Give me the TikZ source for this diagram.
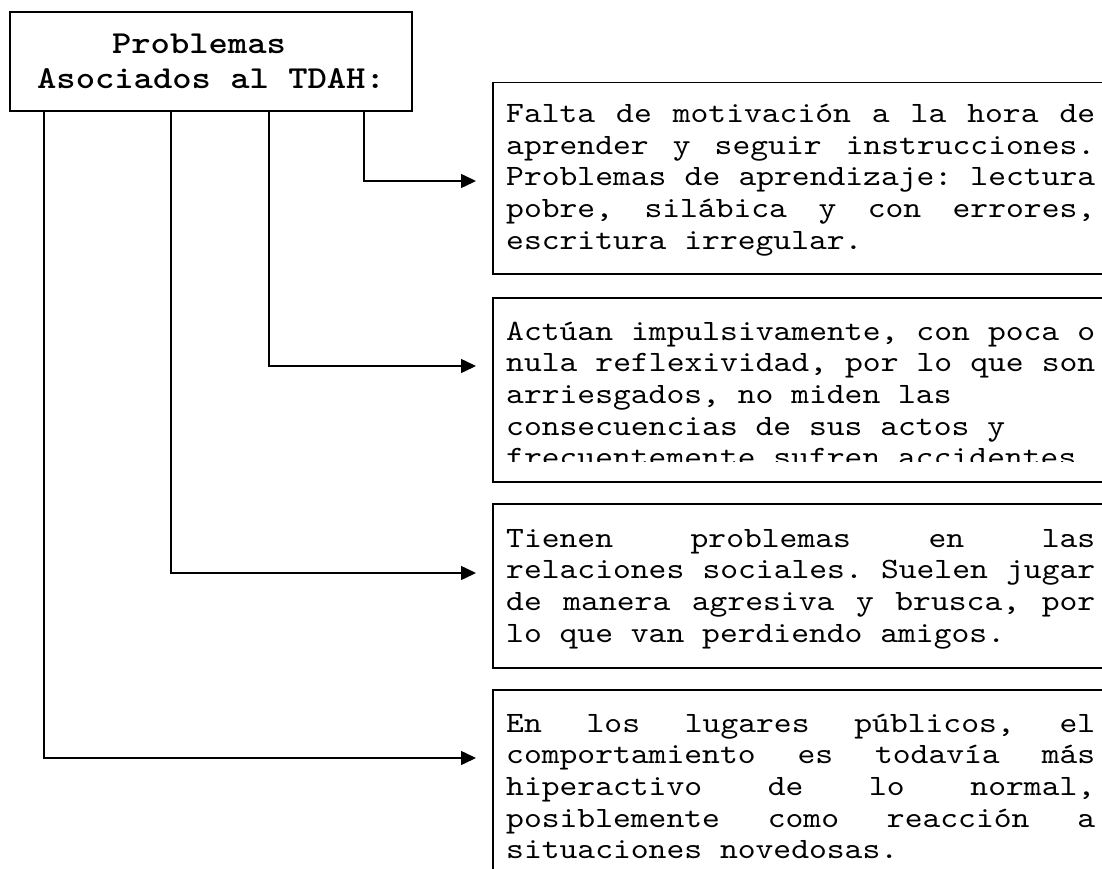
\documentclass[tikz,border=0pt]{standalone}
\usepackage{fontspec}
\usetikzlibrary{arrows.meta,calc}
\newfontfamily\cour{lmmono10-regular}[Extension=.otf, BoldFont=lmmonolt10-bold, FakeStretch=1.15]
\newcommand\bfs{\cour\fontsize{29.51pt}{31.7pt}\selectfont\frenchspacing\spaceskip=17.82pt plus 1fil\relax}
\newcommand\jl[1]{\hbox to 589pt{#1}}
\newcommand\rl[1]{\hbox{#1}}
\newcommand\para[1]{\vtop{\bfs\baselineskip=31.7pt\lineskiplimit=-50pt\relax #1}}
\tikzset{
  pbox/.style={draw, line width=1.5pt, rectangle, inner sep=0pt, anchor=north west},
  ptext/.style={anchor=base west, inner sep=0pt},
  conn/.style={line width=1.5pt, -{Triangle[length=15pt,width=14pt]}},
  titlebox/.style={draw, line width=1.5pt, rectangle, inner sep=0pt, minimum width=402pt, minimum height=99pt, align=center,
     font=\cour\bfseries\fontsize{32pt}{35pt}\selectfont}
}
\begin{document}
\begin{tikzpicture}[x=1pt,y=-1pt]
\useasboundingbox (0,0) rectangle (1102,869);
\fill[white] (0,0) rectangle (1102,869);
\clip (0,0) rectangle (1102,869);

\node[titlebox] (title) at (211,61.5) {Problemas\kern24pt\\Asociados al TDAH:};

\node[pbox, minimum width=640pt, minimum height=191pt] (b1) at (492,82) {};
\node[pbox, minimum width=640pt, minimum height=184pt] (b2) at (492,297) {};
\node[pbox, minimum width=640pt, minimum height=164pt] (b3) at (492,503) {};
\node[pbox, minimum width=640pt, minimum height=220pt] (b4) at (492,689) {};

\node[ptext] (t1) at (506,122.6) {\para{%
\jl{Falta de motivación a la hora de}
\jl{aprender y seguir instrucciones.}
\jl{Problemas de aprendizaje: lectura}
\jl{pobre, silábica y con errores,}
\rl{escritura irregular.}}};

\begin{scope}
\clip (493,298) rectangle (1102,461);
\node[ptext] (t2) at (506,340) {\para{%
\jl{Actúan impulsivamente, con poca o}
\jl{nula reflexividad, por lo que son}
\rl{arriesgados, no miden las}
\rl{consecuencias de sus actos y}
\rl{frecuentemente sufren accidentes}}};
\end{scope}

\node[ptext] (t3) at (506,547) {\para{%
\jl{Tienen problemas en las}
\jl{relaciones sociales. Suelen jugar}
\jl{de manera agresiva y brusca, por}
\rl{lo que van perdiendo amigos.}}};

\node[ptext] (t4) at (506,732) {\para{%
\jl{En los lugares públicos, el}
\jl{comportamiento es todavía más}
\jl{hiperactivo de lo normal,}
\jl{posiblemente como reacción a}
\rl{situaciones novedosas.}}};

\draw[conn] (364,0 |- title.south) |- ($(b1.north west)+(-16,99)$);
\draw[conn] (269,0 |- title.south) |- ($(b2.north west)+(-16,69)$);
\draw[conn] (171,0 |- title.south) |- ($(b3.north west)+(-16,70)$);
\draw[conn] (44,0 |- title.south) |- ($(b4.north west)+(-16,69)$);
\end{tikzpicture}
\end{document}
